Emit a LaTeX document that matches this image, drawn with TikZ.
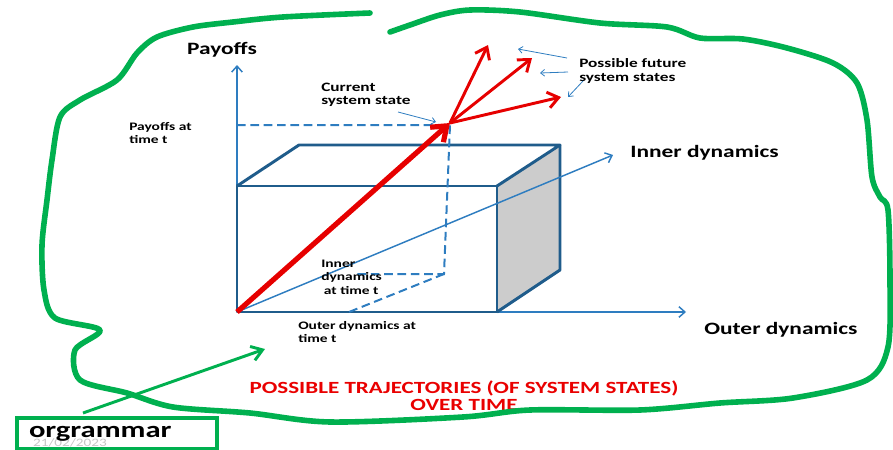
\documentclass[tikz,border=0pt]{standalone}
\usepackage{fontspec}
\setmainfont{Carlito}[FakeStretch=1.35]
\usetikzlibrary{arrows.meta}
\definecolor{axisblue}{HTML}{2E7DC0}
\definecolor{cubeblue}{HTML}{1F5C8B}
\definecolor{penred}{HTML}{E60000}
\definecolor{markgreen}{HTML}{00B04F}
\definecolor{facegray}{HTML}{CCCCCC}

\begin{document}
\begin{tikzpicture}[x=0.75pt,y=-0.75pt,
  axis/.style={axisblue,line width=1.1pt,-{Straight Barb[length=4.5pt,width=8pt]}},
  edge/.style={cubeblue,line width=2.2pt,line join=round},
  proj/.style={axisblue,line width=1.5pt,dash pattern=on 6.5pt off 3.5pt},
  traj/.style={penred,line width=2.2pt,-{Straight Barb[length=8pt,width=12pt]}},
  note/.style={axisblue,line width=0.6pt,-{Straight Barb[length=3pt,width=5pt]}},
  pen/.style={markgreen,line width=4.2pt,line cap=round,line join=round},
  big/.style={font=\fontsize{13}{15}\selectfont\bfseries,inner sep=0pt},
  small/.style={font=\fontsize{8.6}{10}\selectfont\bfseries,align=left,anchor=west,inner sep=0pt},
  mid/.style={font=\fontsize{9.6}{10.2}\selectfont\bfseries,align=left,anchor=west,inner sep=0pt}]
\useasboundingbox (0,0) rectangle (893,450);

% axes and cube corners
\coordinate (O) at (237,312);
\coordinate (payoffsTip) at (237,65);
\coordinate (outerTip) at (686,312);
\coordinate (innerTip) at (613,155);
\coordinate (frontTL) at (237,186);
\coordinate (frontTR) at (497,186);
\coordinate (frontBR) at (497,312);
\coordinate (backTL) at (299,145);
\coordinate (backTR) at (560,145);
\coordinate (backBR) at (560,270);

% states
\coordinate (now) at (450,123);
\coordinate (fut1) at (488,45);
\coordinate (fut2) at (532,58);
\coordinate (fut3) at (561,97);
\coordinate (payT) at (237,125);
\coordinate (nowT) at (450,125);
\coordinate (foot) at (444,274);
\coordinate (innerT) at (353,274);
\coordinate (outerT) at (349,312);

\draw[axis] (O) -- (payoffsTip);
\draw[axis] (O) -- (outerTip);

% cube
\fill[facegray] (frontTR) -- (backTR) -- (backBR) -- (frontBR) -- cycle;
\draw[edge] (O) -- (frontTL) -- (frontTR) -- (frontBR) -- cycle;
\draw[edge] (frontTL) -- (backTL) -- (backTR) -- (frontTR);
\draw[edge] (backTR) -- (backBR) -- (frontBR);

\draw[axis] (O) -- (innerTip);

% projections at time t
\draw[proj] (payT) -- (nowT) -- (foot) -- (innerT);
\draw[proj] (foot) -- (outerT);

% trajectories
\draw[penred,line width=3.9pt,-{Straight Barb[length=10pt,width=15pt]}] (O) -- (now);
\draw[traj] (now) -- (fut1);
\draw[traj] (now) -- (fut2);
\draw[traj] (now) -- (fut3);

% labels
\node[big] (payoffs) at (222,50) {Payoffs};
\node[big,anchor=west] (inner) at (630,153) {Inner dynamics};
\node[big,anchor=west] (outer) at (704,330) {Outer dynamics};
\node[mid] (current) at (321,95) {Current\\system state};
\node[mid] (future) at (579,71) {Possible future\\system states};
\node[small] (payoffsT) at (129,133) {Payoffs at\\time t};
\node[small] (innerLbl) at (321,277) {Inner\\dynamics\\\hspace{2pt}at time t};
\node[small] (outerLbl) at (298,332) {Outer dynamics at\\time t};

% pointers
\coordinate (curFrom) at (398,112);
\coordinate (curTo) at (436,122);
\coordinate (futFrom1) at (567,58);
\coordinate (futTo1) at (518,49);
\coordinate (futFrom2) at (568,72);
\coordinate (futTo2) at (540,73);
\coordinate (futFrom3) at (583,81);
\coordinate (futTo3) at (568,97);
\draw[note] (curFrom) -- (curTo);
\draw[note] (futFrom1) -- (futTo1);
\draw[note] (futFrom2) -- (futTo2);
\draw[note] (futFrom3) -- (futTo3);

\node[penred!90!red,font=\fontsize{12.8}{12.8}\selectfont\bfseries,align=center] (caption) at (464,396)
  {POSSIBLE TRAJECTORIES (OF SYSTEM STATES)\\OVER TIME};

% green marks
\draw[pen] plot[smooth,tension=0.5] coordinates {(370,13) (283,17) (233,22) (193,27) (157,37)
  (137,53) (117,80) (80,100) (60,117) (52,160) (47,200) (42,245) (44,290) (55,318) (100,330)
  (75,350) (80,380) (127,393) (173,407) (250,413) (330,422) (463,417) (530,410) (640,410)
  (720,403) (793,398) (867,380) (888,347) (890,280) (888,210) (880,197) (872,177) (867,120)
  (857,83) (833,63) (787,48) (743,39) (700,38) (667,27) (600,23) (520,12) (470,10) (440,15)
  (410,25) (390,32)};

\node[gray!45,font=\fontsize{8.5}{9}\selectfont,inner sep=0pt] (date) at (70,443) {21/02/2023};
\node[draw=markgreen,line width=3pt,anchor=north west,text width=132pt,inner xsep=9pt,
  minimum height=23.25pt,align=left,font=\fontsize{17}{18}\selectfont\bfseries] (brand) at (15,416) {orgrammar};
\coordinate (markFrom) at (83,413);
\coordinate (markTo) at (265,349);
\draw[markgreen,line width=2.2pt,-{Straight Barb[length=8pt,width=11pt]}] (markFrom) -- (markTo);
\end{tikzpicture}
\end{document}
